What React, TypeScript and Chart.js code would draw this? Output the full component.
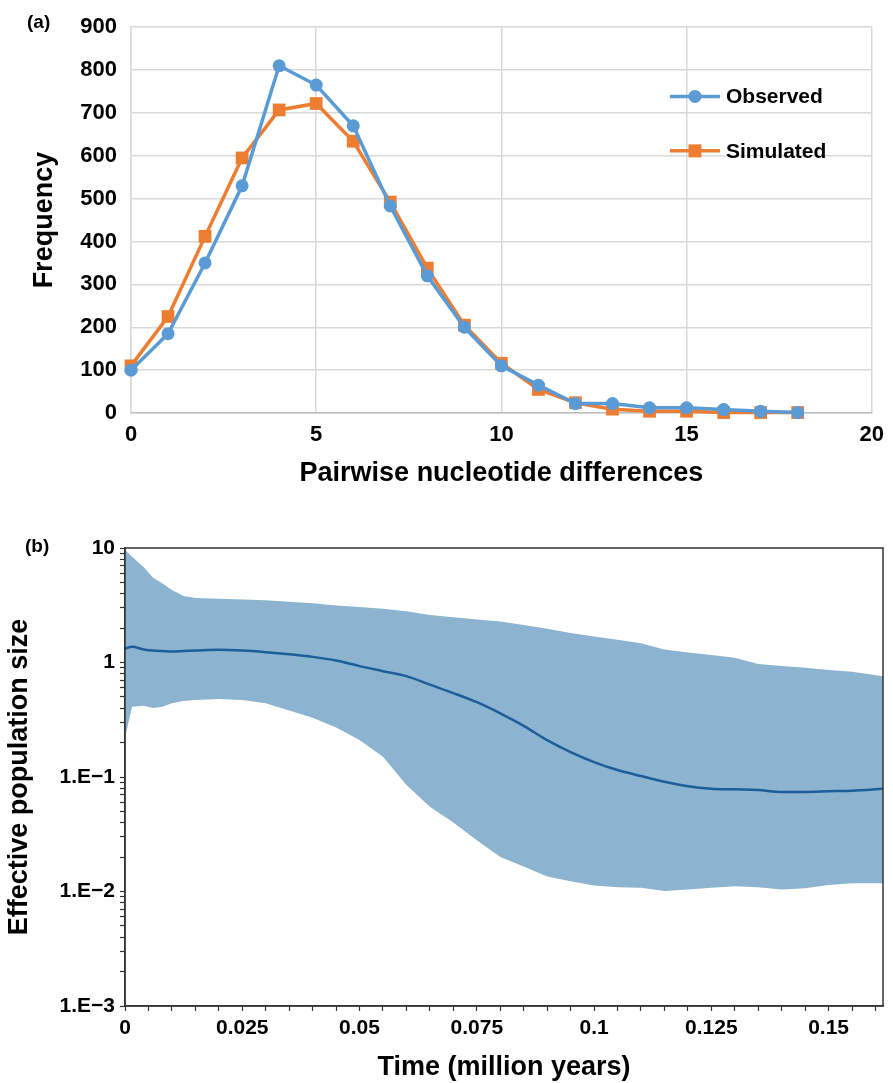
import React, { useEffect, useRef } from 'react';
import { Chart, registerables } from 'chart.js';

Chart.register(...registerables);

const FONT = '"Liberation Sans", Arial, Helvetica, sans-serif';

// ---------- Panel (a) data ----------
const DIFFERENCES = [0, 1, 2, 3, 4, 5, 6, 7, 8, 9, 10, 11, 12, 13, 14, 15, 16, 17, 18];
const OBSERVED = [100, 185, 350, 530, 810, 765, 670, 483, 320, 200, 110, 65, 22, 22, 12, 12, 8, 4, 1];
const SIMULATED = [110, 225, 412, 595, 707, 722, 634, 492, 338, 205, 116, 55, 24, 9, 4, 4, 1, 1, 1];
const SERIES_NAMES = ['Observed', 'Simulated'];
const SERIES_COLORS = ['#5B9BD5', '#ED7D31'];

// ---------- Panel (b) data ----------
const TIME = [0, 0.0015, 0.004, 0.006, 0.008, 0.01, 0.0125, 0.015, 0.02, 0.025, 0.03, 0.035, 0.04, 0.045, 0.05, 0.055, 0.06, 0.065, 0.07, 0.075, 0.08, 0.085, 0.09, 0.095, 0.1, 0.105, 0.11, 0.115, 0.12, 0.125, 0.13, 0.135, 0.14, 0.145, 0.15, 0.155, 0.1616];
const UPPER = [9.6, 8.4, 6.8, 5.5, 4.9, 4.3, 3.8, 3.65, 3.6, 3.55, 3.5, 3.4, 3.3, 3.15, 3.05, 2.95, 2.8, 2.6, 2.48, 2.38, 2.28, 2.13, 1.97, 1.81, 1.69, 1.58, 1.47, 1.3, 1.22, 1.16, 1.1, 0.97, 0.93, 0.9, 0.86, 0.83, 0.76];
const MEDIAN = [1.32, 1.37, 1.3, 1.27, 1.26, 1.25, 1.26, 1.27, 1.29, 1.27, 1.23, 1.18, 1.12, 1.04, 0.93, 0.84, 0.76, 0.64, 0.54, 0.45, 0.36, 0.28, 0.21, 0.165, 0.135, 0.115, 0.102, 0.091, 0.083, 0.079, 0.078, 0.077, 0.074, 0.074, 0.075, 0.076, 0.079];
const LOWER = [0.22, 0.41, 0.42, 0.40, 0.41, 0.44, 0.46, 0.47, 0.48, 0.47, 0.44, 0.38, 0.33, 0.27, 0.21, 0.15, 0.085, 0.055, 0.04, 0.028, 0.02, 0.0165, 0.0135, 0.0123, 0.0113, 0.0109, 0.0108, 0.0101, 0.0104, 0.0108, 0.0111, 0.0109, 0.0104, 0.0107, 0.0114, 0.0118, 0.0118];
const B_Y_TICK_VALUES = [10, 1, 0.1, 0.01, 0.001];
const B_Y_TICK_LABELS = ['10', '1', '1.E\u22121', '1.E\u22122', '1.E\u22123'];
const B_X_TICK_VALUES = [0, 0.025, 0.05, 0.075, 0.1, 0.125, 0.15];
const B_X_TICK_LABELS = ['0', '0.025', '0.05', '0.075', '0.1', '0.125', '0.15'];
const B_X_MAX = 0.1616;

const insideLegend = {
  id: 'insideLegend',
  afterDatasetsDraw(chart: any) {
    const { ctx, chartArea } = chart;
    const w = chartArea.right - chartArea.left;
    const h = chartArea.bottom - chartArea.top;
    const rows = [0.1795, 0.3205];
    const x0 = chartArea.left + w * 0.7276;
    ctx.save();
    chart.data.datasets.forEach((ds: any, i: number) => {
      const y = chartArea.top + h * rows[i];
      ctx.strokeStyle = ds.borderColor;
      ctx.lineWidth = 3.5;
      ctx.beginPath();
      ctx.moveTo(x0, y);
      ctx.lineTo(x0 + 50, y);
      ctx.stroke();
      ctx.fillStyle = ds.backgroundColor;
      const cx = x0 + 25;
      if (ds.pointStyle === 'rect') {
        ctx.fillRect(cx - 6.5, y - 6.5, 13, 13);
      } else {
        ctx.beginPath();
        ctx.arc(cx, y, 6.5, 0, Math.PI * 2);
        ctx.fill();
      }
      ctx.fillStyle = '#000';
      ctx.font = `bold 21px ${FONT}`;
      ctx.textBaseline = 'middle';
      ctx.textAlign = 'left';
      ctx.fillText(ds.label, x0 + 56, y + 1);
    });
    ctx.restore();
  },
};

const frame = {
  id: 'frame',
  afterDraw(chart: any) {
    const { ctx, chartArea } = chart;
    ctx.save();
    ctx.strokeStyle = '#333';
    ctx.lineWidth = 1.5;
    ctx.strokeRect(chartArea.left, chartArea.top, chartArea.right - chartArea.left, chartArea.bottom - chartArea.top);
    ctx.restore();
  },
};

function matchLabel(v: number, values: number[], labels: string[], log: boolean) {
  for (let i = 0; i < values.length; i++) {
    const a = log ? Math.log10(v) : v;
    const b = log ? Math.log10(values[i]) : values[i];
    if (Math.abs(a - b) < 1e-7) return labels[i];
  }
  return '';
}

function ChartA() {
  const ref = useRef<HTMLCanvasElement>(null);
  useEffect(() => {
    const series = [OBSERVED, SIMULATED];
    const chart = new Chart(ref.current!, {
      type: 'line',
      data: {
        datasets: series.map((vals, i) => ({
          label: SERIES_NAMES[i],
          data: DIFFERENCES.map((d, j) => ({ x: d, y: vals[j] })),
          borderColor: SERIES_COLORS[i],
          backgroundColor: SERIES_COLORS[i],
          borderWidth: 3.5,
          pointStyle: i === 0 ? 'circle' : 'rect',
          pointRadius: i === 0 ? 6.5 : 9,
          pointBorderWidth: 0,
          tension: 0,
          clip: false,
        })) as any,
      },
      options: {
        animation: false,
        responsive: true,
        maintainAspectRatio: false,
        layout: { padding: { top: 23, right: 13, left: 0, bottom: 0 } },
        plugins: { legend: { display: false }, tooltip: { enabled: false } },
        scales: {
          x: {
            type: 'linear',
            min: 0,
            max: 20,
            afterFit: (s: any) => { s.height = 87; },
            ticks: { stepSize: 5, color: '#000', padding: 9, font: { family: FONT, size: 22, weight: 'bold' }, maxRotation: 0 },
            grid: { color: '#D9D9D9', lineWidth: 1.5, drawTicks: false },
            border: { color: '#BFBFBF', width: 1.5 },
            title: { display: true, text: 'Pairwise nucleotide differences', color: '#000', padding: { top: 0, bottom: 12.5 }, font: { family: FONT, size: 27, weight: 'bold', lineHeight: 1 } },
          },
          y: {
            min: 0,
            max: 900,
            afterFit: (s: any) => { s.width = 131; },
            ticks: { stepSize: 100, color: '#000', padding: 14, font: { family: FONT, size: 22, weight: 'bold' } },
            grid: { color: '#D9D9D9', lineWidth: 1.5, drawTicks: false },
            border: { color: '#D9D9D9', width: 1.5 },
            title: { display: true, text: 'Frequency', color: '#000', padding: { top: 31.5, bottom: 0 }, font: { family: FONT, size: 27, weight: 'bold', lineHeight: 1 } },
          },
        },
      } as any,
      plugins: [insideLegend],
    });
    return () => chart.destroy();
  }, []);
  return <canvas ref={ref} />;
}

function ChartB() {
  const ref = useRef<HTMLCanvasElement>(null);
  useEffect(() => {
    const pts = (vals: number[]) => TIME.map((t, i) => ({ x: t, y: vals[i] }));
    const chart = new Chart(ref.current!, {
      type: 'line',
      data: {
        datasets: [
          { label: 'Median', data: pts(MEDIAN), borderColor: '#1B5E99', borderWidth: 2.5, pointRadius: 0, fill: false, cubicInterpolationMode: 'monotone' },
          { label: 'Upper', data: pts(UPPER), borderWidth: 0, borderColor: 'rgba(0,0,0,0)', backgroundColor: '#8CB3CF', pointRadius: 0, fill: '+1', tension: 0 },
          { label: 'Lower', data: pts(LOWER), borderWidth: 0, borderColor: 'rgba(0,0,0,0)', pointRadius: 0, fill: false, tension: 0 },
        ] as any,
      },
      options: {
        animation: false,
        responsive: true,
        maintainAspectRatio: false,
        layout: { padding: { top: 48, right: 10, left: 0, bottom: 0 } },
        plugins: { legend: { display: false }, tooltip: { enabled: false } },
        scales: {
          x: {
            type: 'linear',
            min: 0,
            max: B_X_MAX,
            afterFit: (s: any) => { s.height = 77; },
            afterBuildTicks: (s: any) => {
              const t = [];
              for (let i = 0; i * 0.005 <= B_X_MAX + 1e-9; i++) t.push({ value: Math.round(i * 5) / 1000 });
              s.ticks = t;
            },
            ticks: {
              autoSkip: false,
              maxRotation: 0,
              color: '#000',
              padding: 5,
              font: { family: FONT, size: 21, weight: 'bold' },
              callback: (v: any) => matchLabel(Number(v), B_X_TICK_VALUES, B_X_TICK_LABELS, false),
            },
            grid: { drawOnChartArea: false, drawTicks: true, tickLength: 5, tickColor: '#333', tickWidth: 1.2 },
            border: { color: '#333', width: 1.5 },
            title: { display: true, text: 'Time (million years)', color: '#000', padding: { top: 0, bottom: 1.5 }, font: { family: FONT, size: 27, weight: 'bold', lineHeight: 1 } },
          },
          y: {
            type: 'logarithmic',
            min: 0.001,
            max: 10,
            afterFit: (s: any) => { s.width = 125; },
            afterBuildTicks: (s: any) => {
              const t = [];
              for (let d = -3; d <= 0; d++) {
                for (let m = 1; m <= 9; m++) t.push({ value: Number((m * Math.pow(10, d)).toPrecision(6)) });
              }
              t.push({ value: 10 });
              s.ticks = t;
            },
            ticks: {
              autoSkip: false,
              color: '#000',
              padding: 5,
              font: { family: FONT, size: 21, weight: 'bold' },
              callback: (v: any) => matchLabel(Number(v), B_Y_TICK_VALUES, B_Y_TICK_LABELS, true),
            },
            grid: { drawOnChartArea: false, drawTicks: true, tickLength: 5, tickColor: '#333', tickWidth: 1.2 },
            border: { color: '#333', width: 1.5 },
            title: { display: true, text: 'Effective population size', color: '#000', padding: { top: 6.5, bottom: 0 }, font: { family: FONT, size: 27, weight: 'bold', lineHeight: 1 } },
          },
        },
      } as any,
      plugins: [frame],
    });
    return () => chart.destroy();
  }, []);
  return <canvas ref={ref} />;
}

const panelLabel: React.CSSProperties = {
  position: 'absolute',
  fontFamily: FONT,
  fontWeight: 'bold',
  fontSize: 19,
  lineHeight: '19px',
  color: '#000',
};

export default function App() {
  return (
    <div style={{ position: 'absolute', left: 0, top: 0, width: 893, height: 1083, background: '#fff', overflow: 'hidden' }}>
      <div style={{ position: 'absolute', left: 0, top: 0, width: 893, height: 500 }}>
        <ChartA />
      </div>
      <div style={{ position: 'absolute', left: 0, top: 500, width: 893, height: 583 }}>
        <ChartB />
      </div>
      <div style={{ ...panelLabel, left: 27, top: 12 }}>(a)</div>
      <div style={{ ...panelLabel, left: 25, top: 536 }}>(b)</div>
    </div>
  );
}
